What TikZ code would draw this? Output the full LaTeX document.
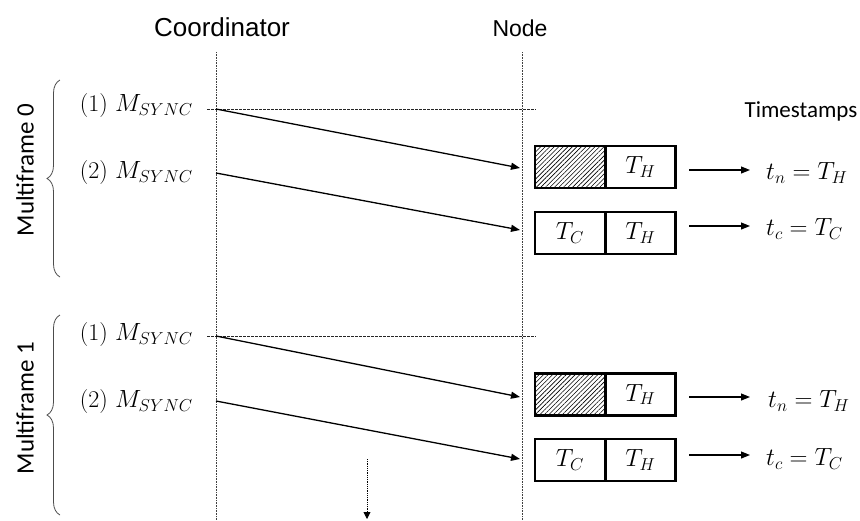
\documentclass[tikz,border=0pt]{standalone}
\usepackage{fontspec}
\newfontfamily\arialf{Liberation Sans}
\newfontfamily\calf{Carlito}
\usetikzlibrary{arrows.meta,patterns.meta,decorations.pathreplacing}

\begin{document}
\begin{tikzpicture}[x=1pt,y=-1pt,
  lifeline/.style={line width=0.7pt, black!75, dash pattern=on 0.8pt off 0.8pt},
  sepline/.style={line width=0.7pt, black!85, dash pattern=on 2.5pt off 1.5pt},
  msg/.style={line width=1.3pt, -{Triangle[length=9pt,width=7pt]}},
  outarrow/.style={line width=1.1pt, -{Triangle[length=9pt,width=7pt]}},
  cell/.style={draw, line width=2.6pt, minimum width=70pt, minimum height=42pt,
    inner sep=0pt, font=\fontsize{24}{28}\selectfont},
  hatchcell/.style={cell, pattern={Lines[angle=45,distance=3.2pt,line width=0.6pt]}},
  msglabel/.style={anchor=east, inner sep=0pt, font=\fontsize{24}{28}\selectfont},
  stamp/.style={anchor=west, inner sep=0pt, font=\fontsize{24}{28}\selectfont},
  head/.style={inner sep=0pt, font=\arialf\fontsize{#1}{#1}\selectfont},
  framelabel/.style={rotate=90, inner sep=0pt, font=\calf\fontsize{25}{30}\selectfont},
  framebrace/.style={decorate, decoration={brace, amplitude=13pt}, line width=0.8pt, black!70}
]
\useasboundingbox (0,0) rectangle (860,520);

% participants
\node[head=26] (coord) at (222,27) {Coordinator};
\node[head=23] (node) at (520,28) {Node};
\node[inner sep=0pt, font=\calf\fontsize{23}{27}\selectfont] (tstitle) at (801,111) {Timestamps};

% lifelines
\coordinate (ctop) at (216,52);
\coordinate (cbot) at (216,520);
\coordinate (ntop) at (522,52);
\coordinate (nbot) at (522,520);
\draw[lifeline] (ctop) -- (cbot);
\draw[lifeline] (ntop) -- (nbot);

% multiframe labels and braces
\node[framelabel] (mf0) at (25,170) {Multiframe 0};
\node[framelabel] (mf1) at (25,408) {Multiframe 1};
\coordinate (b0s) at (60,277);
\coordinate (b0e) at (60,80);
\coordinate (b1s) at (60,515);
\coordinate (b1e) at (60,315);
\draw[framebrace] (b0s) -- (b0e);
\draw[framebrace] (b1s) -- (b1e);

% multiframe boundaries
\coordinate (d0l) at (207,109);
\coordinate (d0r) at (536,109);
\coordinate (d1l) at (207,336);
\coordinate (d1r) at (536,336);
\draw[sepline] (d0l) -- (d0r);
\draw[sepline] (d1l) -- (d1r);

% sync message labels
\node[msglabel] (l0a) at (193,106) {(1) $M_{SYNC}$};
\node[msglabel] (l0b) at (193,173) {(2) $M_{SYNC}$};
\node[msglabel] (l1a) at (193,335) {(1) $M_{SYNC}$};
\node[msglabel] (l1b) at (193,402) {(2) $M_{SYNC}$};

% sync messages
\coordinate (c0a) at (216,109);
\coordinate (n0a) at (520,168);
\coordinate (c0b) at (216,173);
\coordinate (n0b) at (520,230);
\coordinate (c1a) at (216,336);
\coordinate (n1a) at (520,397);
\coordinate (c1b) at (216,401);
\coordinate (n1b) at (520,459);
\draw[msg] (c0a) -- (n0a);
\draw[msg] (c0b) -- (n0b);
\draw[msg] (c1a) -- (n1a);
\draw[msg] (c1b) -- (n1b);

% received frames
\node[hatchcell] (h0) at (570,167) {};
\node[cell] (th0) at (640.5,167) {$T_H$};
\node[cell] (tc0) at (570,233) {$T_C$};
\node[cell] (th0b) at (640.5,233) {$T_H$};
\node[hatchcell] (h1) at (570,394.5) {};
\node[cell] (th1) at (640.5,394.5) {$T_H$};
\node[cell] (tc1) at (570,460) {$T_C$};
\node[cell] (th1b) at (640.5,460) {$T_H$};

% timestamp assignment
\coordinate (o0as) at (689,170);
\coordinate (o0ae) at (750,170);
\coordinate (o0bs) at (689,226);
\coordinate (o0be) at (750,226);
\coordinate (o1as) at (689,397);
\coordinate (o1ae) at (750,397);
\coordinate (o1bs) at (689,455);
\coordinate (o1be) at (750,455);
\draw[outarrow] (o0as) -- (o0ae);
\draw[outarrow] (o0bs) -- (o0be);
\draw[outarrow] (o1as) -- (o1ae);
\draw[outarrow] (o1bs) -- (o1be);
\node[stamp] (s0a) at (766,173) {$t_n = T_H$};
\node[stamp] (s0b) at (766,229) {$t_c = T_C$};
\node[stamp] (s1a) at (768,401) {$t_n = T_H$};
\node[stamp] (s1b) at (766,459) {$t_c = T_C$};

% continuation
\coordinate (cont) at (367,459);
\coordinate (contend) at (367,519);
\draw[line width=0.9pt, dash pattern=on 1pt off 0.8pt, -{Triangle[length=7pt,width=7pt]}] (cont) -- (contend);
\end{tikzpicture}
\end{document}
